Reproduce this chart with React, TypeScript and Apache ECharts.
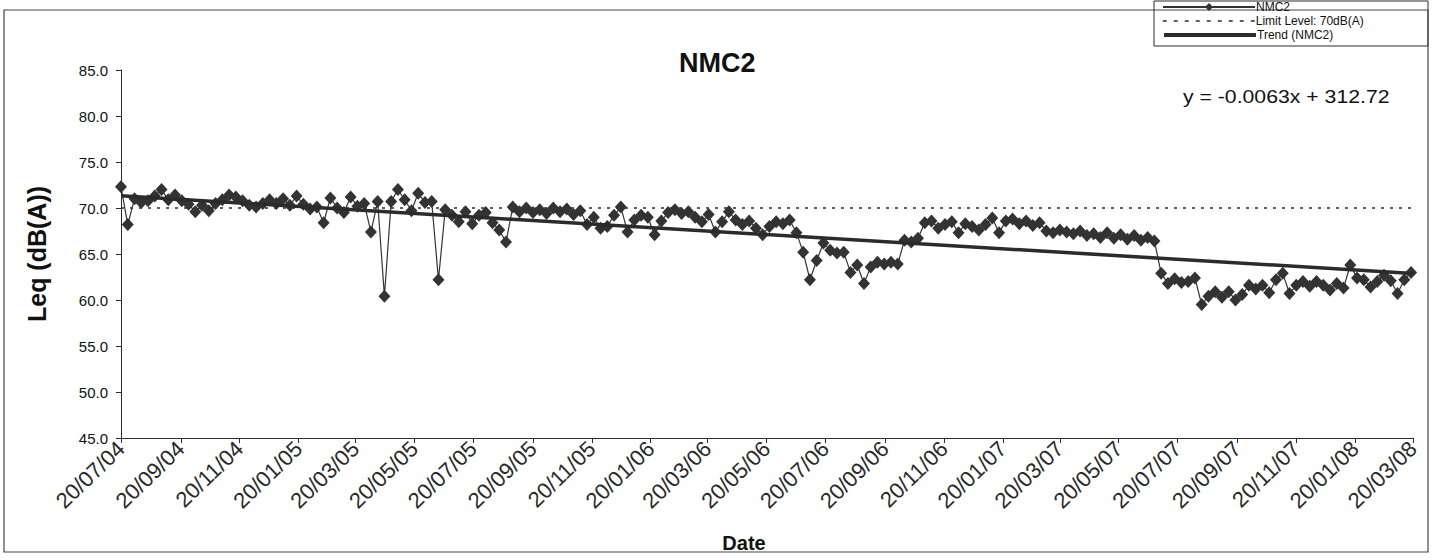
import React, { useEffect, useRef } from "react";
import * as echarts from "echarts";

// ---- data ----
const tickLabels = [
  "20/07/04", "20/09/04", "20/11/04", "20/01/05", "20/03/05", "20/05/05",
  "20/07/05", "20/09/05", "20/11/05", "20/01/06", "20/03/06", "20/05/06",
  "20/07/06", "20/09/06", "20/11/06", "20/01/07", "20/03/07", "20/05/07",
  "20/07/07", "20/09/07", "20/11/07", "20/01/08", "20/03/08",
];
const firstSampleDate = "20/07/04";
const sampleStepDays = 7;
const nmc2Values = [
  72.3, 68.2, 71.0, 70.6, 70.8, 71.3, 72.0, 70.9, 71.4, 70.8,
  70.4, 69.6, 70.3, 69.7, 70.5, 70.9, 71.4, 71.2, 70.8, 70.3,
  70.1, 70.5, 70.9, 70.5, 71.0, 70.3, 71.3, 70.4, 69.9, 70.1,
  68.4, 71.1, 70.0, 69.5, 71.2, 70.2, 70.5, 67.4, 70.7, 60.4,
  70.7, 72.0, 70.9, 69.7, 71.6, 70.6, 70.7, 62.2, 69.8, 69.2,
  68.5, 69.6, 68.3, 69.2, 69.5, 68.4, 67.6, 66.3, 70.1, 69.6,
  70.0, 69.5, 69.8, 69.4, 70.0, 69.6, 69.9, 69.3, 69.7, 68.2,
  69.0, 67.8, 68.0, 69.2, 70.1, 67.4, 68.7, 69.2, 69.0, 67.1,
  68.6, 69.5, 69.8, 69.4, 69.6, 69.0, 68.5, 69.3, 67.4, 68.5,
  69.6, 68.7, 68.2, 68.6, 67.8, 67.1, 68.0, 68.5, 68.3, 68.7,
  67.3, 65.2, 62.2, 64.3, 66.2, 65.4, 65.1, 65.2, 63.0, 63.8,
  61.8, 63.6, 64.1, 63.9, 64.1, 63.9, 66.5, 66.3, 66.7, 68.4,
  68.6, 67.8, 68.2, 68.5, 67.3, 68.3, 68.0, 67.6, 68.2, 68.9,
  67.3, 68.6, 68.8, 68.3, 68.6, 68.1, 68.4, 67.5, 67.3, 67.6,
  67.4, 67.2, 67.5, 67.0, 67.2, 66.8, 67.3, 66.7, 67.1, 66.6,
  67.0, 66.5, 66.8, 66.4, 62.9, 61.8, 62.3, 61.9, 62.0, 62.4,
  59.5, 60.4, 60.9, 60.3, 60.9, 60.0, 60.6, 61.6, 61.2, 61.6,
  60.8, 62.2, 62.9, 60.7, 61.6, 62.0, 61.5, 62.0, 61.6, 61.1,
  61.8, 61.3, 63.8, 62.4, 62.2, 61.4, 62.0, 62.7, 62.1, 60.7,
  62.2, 63.0,
];
const limitLevel = 70;
const seriesNames = ["NMC2", "Limit Level: 70dB(A)", "Trend (NMC2)"];
const trendSlopePerDay = -0.0063; // from the printed trend equation
const trendIntercept = 312.72;
const equationText = `y = ${trendSlopePerDay}x + ${trendIntercept}`;
const yTicks = [45, 85, 5]; // min, max, step

// ---- helpers ----
const DAY = 86400000;
function parseDMY(s: string): number {
  const [d, m, y] = s.split("/").map(Number);
  return Date.UTC(2000 + y, m - 1, d);
}
const origin = parseDMY(tickLabels[0]);
const tickDays = tickLabels.map((t) => Math.round((parseDMY(t) - origin) / DAY));
const firstDay = Math.round((parseDMY(firstSampleDate) - origin) / DAY);
const sampleDays = nmc2Values.map((_, i) => firstDay + i * sampleStepDays);
const maxDay = tickDays[tickDays.length - 1];

// trend: printed slope, anchored on the data's centroid (least squares with fixed slope)
const n = nmc2Values.length;
const mx = sampleDays.reduce((a, b) => a + b, 0) / n;
const my = nmc2Values.reduce((a, b) => a + b, 0) / n;
const trendAt = (d: number) => my + trendSlopePerDay * (d - mx);

const FONT = "'Liberation Sans', Arial, sans-serif";
const INK = "#2b2b2b";

export default function App() {
  const ref = useRef<HTMLDivElement>(null);
  useEffect(() => {
    document.body.style.margin = "0";
    const chart = echarts.init(ref.current!, null, { renderer: "svg" });
    const labelMap: Record<number, string> = {};
    tickDays.forEach((d, i) => (labelMap[d] = tickLabels[i]));
    const legendRowTops = [1, 15, 29];
    const legendItemStyles = [
      {},
      { itemStyle: { opacity: 0 }, lineStyle: { type: [4, 7], width: 1.5 } },
      { itemStyle: { opacity: 0 }, lineStyle: { width: 4 } },
    ];
    chart.setOption({
      animation: false,
      backgroundColor: "#ffffff",
      textStyle: { fontFamily: FONT },
      title: {
        text: "NMC2",
        left: 674,
        top: 44,
        textStyle: { fontFamily: FONT, fontSize: 27, fontWeight: "bold", color: "#111" },
      },
      legend: seriesNames.map((name, i) => ({
        data: [{ name, ...legendItemStyles[i] }],
        left: 1162,
        top: legendRowTops[i],
        padding: 0,
        itemWidth: 92,
        itemHeight: 10,
        selectedMode: false,
        textStyle: {
          fontFamily: FONT,
          fontSize: 12,
          lineHeight: 12,
          color: "#111",
          padding: [0, 0, 0, -4],
        },
      })),
      graphic: [
        {
          type: "rect",
          shape: { x: 4, y: 10, width: 1424, height: 542 },
          style: { fill: "none", stroke: "#444", lineWidth: 1.2 },
          silent: true,
        },
        {
          type: "rect",
          shape: { x: 1154, y: 1, width: 274, height: 45 },
          style: { fill: "#fff", stroke: INK, lineWidth: 1 },
          z: -1,
          silent: true,
        },
        {
          type: "text",
          left: 1183,
          top: 88,
          scaleX: 1.18,
          style: { text: equationText, font: `18px ${FONT}`, fill: "#111" },
        },
      ],
      grid: { left: 121, right: 24, top: 70, bottom: 122 },
      xAxis: {
        type: "value",
        min: 0,
        max: maxDay,
        name: "Date",
        nameLocation: "middle",
        nameGap: 95,
        nameTextStyle: {
          fontFamily: FONT,
          fontSize: 20,
          fontWeight: "bold",
          color: "#111",
          padding: [0, 46, 0, 0],
        },
        axisLine: { show: true, onZero: false, lineStyle: { color: INK, width: 1 } },
        axisTick: { show: true, length: 5, customValues: tickDays, lineStyle: { color: INK } },
        axisLabel: {
          customValues: tickDays,
          rotate: 44,
          fontSize: 22,
          color: "#2a2a2a",
          margin: 7,
          formatter: (v: number) => labelMap[Math.round(v)] ?? "",
        },
        splitLine: { show: false },
      },
      yAxis: {
        type: "value",
        min: yTicks[0],
        max: yTicks[1],
        interval: yTicks[2],
        name: "Leq (dB(A))",
        nameLocation: "middle",
        nameGap: 72,
        nameTextStyle: { fontFamily: FONT, fontSize: 25, fontWeight: "bold", color: "#111" },
        axisLine: { show: true, lineStyle: { color: INK, width: 1 } },
        axisTick: { show: true, length: 5, lineStyle: { color: INK } },
        axisLabel: {
          fontSize: 15,
          color: "#111",
          margin: 13,
          formatter: (v: number) => v.toFixed(1),
        },
        splitLine: { show: false },
      },
      series: [
        {
          name: seriesNames[0],
          type: "line",
          z: 3,
          data: sampleDays.map((d, i) => [d, nmc2Values[i]]),
          symbol: "diamond",
          symbolSize: [12, 13],
          itemStyle: { color: "#333" },
          lineStyle: { color: "#333", width: 1.2 },
        },
        {
          name: seriesNames[1],
          type: "line",
          z: 2,
          data: [[0, limitLevel], [maxDay, limitLevel]],
          symbol: "none",
          itemStyle: { color: INK },
          lineStyle: { color: INK, width: 1.6, type: [3, 6] },
        },
        {
          name: seriesNames[2],
          type: "line",
          z: 4,
          data: [
            [0, trendAt(0)],
            [maxDay, trendAt(maxDay)],
          ],
          symbol: "none",
          itemStyle: { color: INK },
          lineStyle: { color: INK, width: 3.5 },
        },
      ],
    });
    return () => chart.dispose();
  }, []);
  return <div ref={ref} style={{ width: 1437, height: 560 }} />;
}
